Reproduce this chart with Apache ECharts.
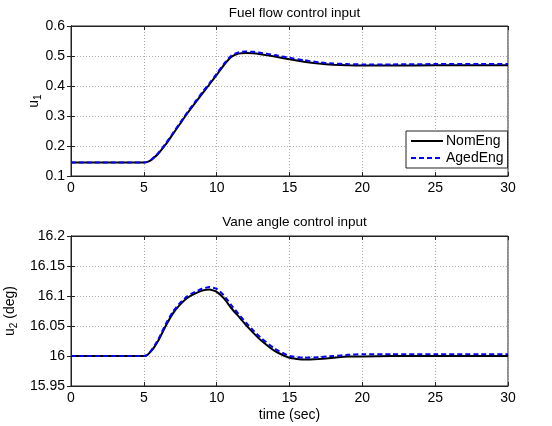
<!DOCTYPE html>
<html><head><meta charset="utf-8">
<script src="https://cdn.jsdelivr.net/npm/echarts@6/dist/echarts.min.js"></script>
<style>html,body{margin:0;padding:0;background:#fff}#c{width:552px;height:426px}</style>
</head><body><div id="c"></div>
<script>
const time = [0,1,2,3,4,5,5.25,5.5,5.75,6,6.5,7,7.5,8,8.5,9,9.5,10,10.5,11,11.5,12,12.5,13,14,15,16,17,18,19,20,22,25,28,30];
const u1Nom = [0.145,0.145,0.145,0.145,0.145,0.145,0.147,0.153,0.163,0.175,0.205,0.24,0.275,0.31,0.342,0.374,0.405,0.437,0.47,0.497,0.508,0.51,0.509,0.506,0.498,0.489,0.481,0.475,0.471,0.469,0.468,0.468,0.469,0.469,0.469];
const u1Aged = [0.145,0.145,0.145,0.145,0.145,0.145,0.147,0.154,0.165,0.177,0.208,0.243,0.278,0.313,0.346,0.378,0.409,0.441,0.474,0.501,0.512,0.515,0.514,0.511,0.503,0.494,0.486,0.479,0.475,0.473,0.472,0.472,0.473,0.473,0.473];
const u2Nom = [16,16,16,16,16,16,16.002,16.008,16.016,16.026,16.05,16.071,16.086,16.097,16.104,16.109,16.111,16.107,16.096,16.08,16.066,16.052,16.039,16.027,16.008,15.997,15.994,15.995,15.997,15.999,15.999,16,16,16,16];
const u2Aged = [16,16,16,16,16,16,16.002,16.009,16.018,16.028,16.053,16.074,16.089,16.1,16.107,16.112,16.115,16.112,16.101,16.085,16.07,16.056,16.043,16.031,16.012,16.0,15.997,15.998,16.0,16.002,16.003,16.003,16.003,16.003,16.003];
const xTicks = [0,5,10,15,20,25,30];
const titles = ['Fuel flow control input','Vane angle control input'];

const pair = (xs, ys) => xs.map((x,i)=>[x,ys[i]]);
const font = 'Liberation Sans, Arial, sans-serif';
const gridBase = {left:71, right:44, height:150, show:true, borderColor:'#222', borderWidth:1, backgroundColor:'#fff', containLabel:false, outerBoundsMode:'none'};
const grids = [Object.assign({top:26}, gridBase), Object.assign({top:236}, gridBase)];
const xAxisBase = (gi) => ({
  type:'value', gridIndex:gi, min:0, max:30, interval:5,
  axisLine:{show:true, lineStyle:{color:'#222'}},
  axisTick:{show:true, inside:true, length:4, lineStyle:{color:'#222'}},
  axisLabel:{color:'#000', fontSize:14, fontFamily:font, margin:5},
  splitLine:{show:true, lineStyle:{color:'#aaa', type:[1,2], width:1}}
});
const xTop = (gi) => ({
  type:'value', gridIndex:gi, min:0, max:30, interval:5, position:'top',
  axisLine:{show:true, lineStyle:{color:'#222'}},
  axisTick:{show:true, inside:true, length:4, lineStyle:{color:'#222'}},
  axisLabel:{show:false}, splitLine:{show:false}
});
const yRight = (gi,min,max,iv) => ({
  type:'value', gridIndex:gi, min, max, interval:iv, position:'right',
  axisLine:{show:true, lineStyle:{color:'#222'}},
  axisTick:{show:true, inside:true, length:4, lineStyle:{color:'#222'}},
  axisLabel:{show:false}, splitLine:{show:false}
});
const titleStyle = {fontSize:13.5, fontWeight:'normal', color:'#000', fontFamily:font};
const richSub = {m:{fontSize:14, fill:'#000', color:'#000', fontFamily:font}, s:{fontSize:10, fill:'#000', color:'#000', fontFamily:font, padding:[8,0,0,0]}};
const chart = echarts.init(document.getElementById('c'), null, {renderer:'canvas'});
chart.setOption({
  animation:false,
  backgroundColor:'#fff',
  title: [
    {text:titles[0], left:289.5, textAlign:'center', top:1, textStyle:titleStyle},
    {text:titles[1], left:289.5, textAlign:'center', top:210, textStyle:titleStyle}
  ],
  graphic: [
    {type:'text', x:34, y:101, rotation:Math.PI/2, z:10,
     style:{text:'{m|u}{s|1}', rich:richSub, align:'center', verticalAlign:'middle', fill:'#000'}}
  ],
  grid: grids,
  legend: {
    left:406, top:131, orient:'vertical', itemGap:3, padding:[3,4,3,4],
    borderColor:'#222', borderWidth:1, backgroundColor:'#fff', borderRadius:0,
    itemWidth:32, itemHeight:12,
    itemStyle:{opacity:0},
    textStyle:{fontSize:14, color:'#000', fontFamily:font, padding:[0,0,0,-2]},
    data:['NomEng','AgedEng']
  },
  xAxis: [
    xAxisBase(0),
    Object.assign(xAxisBase(1), {name:'time (sec)', nameLocation:'middle', nameGap:22, nameTextStyle:{fontSize:14, color:'#000', fontFamily:font}}),
    xTop(0), xTop(1)
  ],
  yAxis: [
    {type:'value', gridIndex:0, min:0.1, max:0.6, interval:0.1,
     axisLine:{show:true, lineStyle:{color:'#222'}},
     axisTick:{show:true, inside:true, length:4, lineStyle:{color:'#222'}},
     axisLabel:{color:'#000', fontSize:14, fontFamily:font, margin:6, formatter:v=>v.toFixed(1)},
     splitLine:{show:true, lineStyle:{color:'#aaa', type:[1,2], width:1}}},
    {type:'value', gridIndex:1, min:15.95, max:16.2, interval:0.05,
     name:'{m|u}{s|2}{m| (deg)}', nameLocation:'middle', nameGap:50, nameRotate:90,
     nameTextStyle:{rich:{m:{fontSize:14, color:'#000', fontFamily:font}, s:{fontSize:10, color:'#000', fontFamily:font, padding:[8,0,0,0]}}},
     axisLine:{show:true, lineStyle:{color:'#222'}},
     axisTick:{show:true, inside:true, length:4, lineStyle:{color:'#222'}},
     axisLabel:{color:'#000', fontSize:14, fontFamily:font, margin:6, formatter:v=>String(+v.toFixed(2))},
     splitLine:{show:true, lineStyle:{color:'#aaa', type:[1,2], width:1}}},
    yRight(0,0.1,0.6,0.1), yRight(1,15.95,16.2,0.05)
  ],
  series: [
    {name:'NomEng', type:'line', xAxisIndex:0, yAxisIndex:0, data:pair(time,u1Nom), showSymbol:false, symbol:'none', smooth:0.15, lineStyle:{color:'#000', width:2}, itemStyle:{color:'#000'}},
    {name:'AgedEng', type:'line', xAxisIndex:0, yAxisIndex:0, data:pair(time,u1Aged), showSymbol:false, symbol:'none', smooth:0.15, lineStyle:{color:'#0000ff', width:2, type:[5,3]}, itemStyle:{color:'#0000ff'}},
    {name:'NomEng', type:'line', xAxisIndex:1, yAxisIndex:1, data:pair(time,u2Nom), showSymbol:false, symbol:'none', smooth:0.15, lineStyle:{color:'#000', width:2}, itemStyle:{color:'#000'}},
    {name:'AgedEng', type:'line', xAxisIndex:1, yAxisIndex:1, data:pair(time,u2Aged), showSymbol:false, symbol:'none', smooth:0.15, lineStyle:{color:'#0000ff', width:2, type:[5,3]}, itemStyle:{color:'#0000ff'}}
  ]
});
</script></body></html>
